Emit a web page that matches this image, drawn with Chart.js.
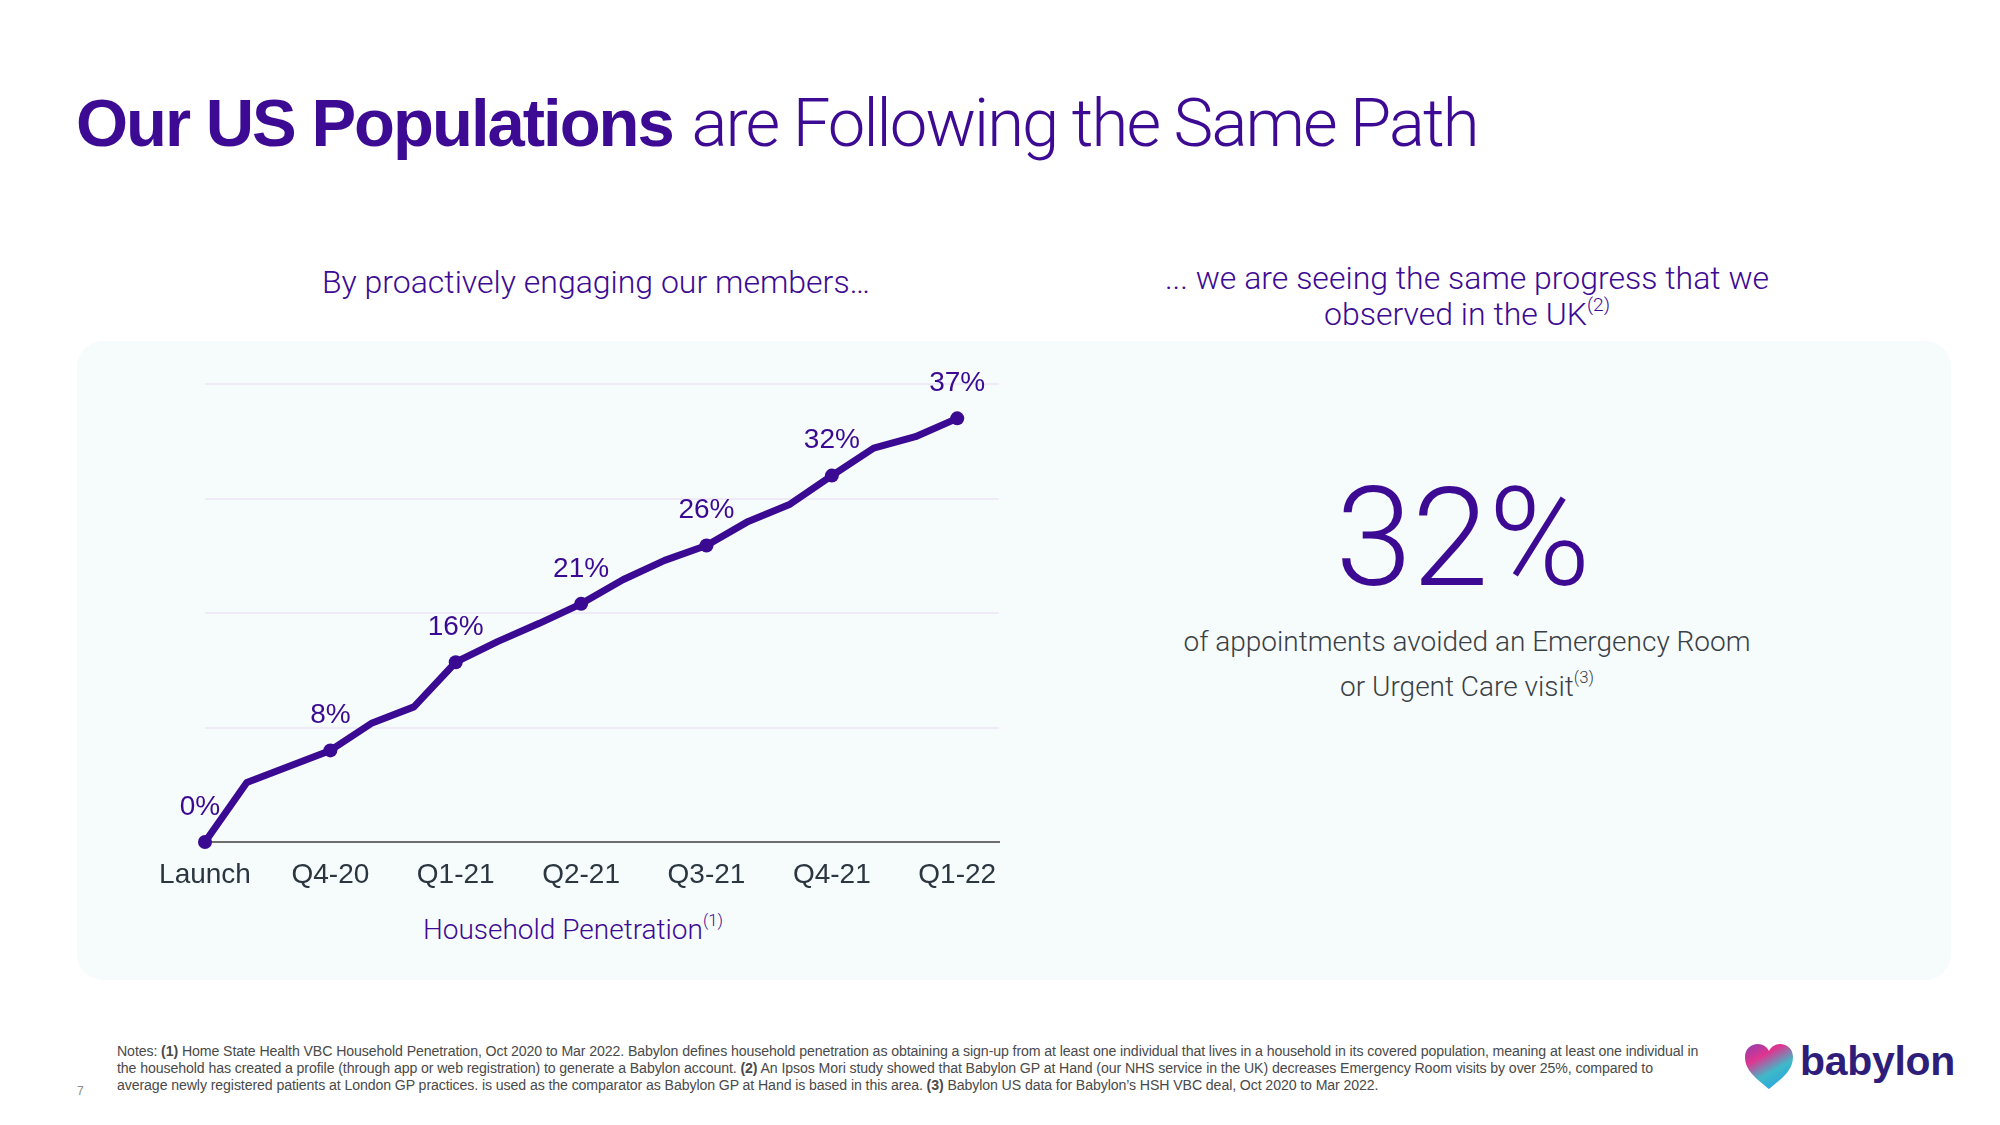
<!DOCTYPE html>
<html>
<head>
<meta charset="utf-8">
<script src="https://cdn.jsdelivr.net/npm/chart.js@4.4.1/dist/chart.umd.min.js"></script>
<style>
  html, body { margin:0; padding:0; background:#ffffff; }
  body { width:2000px; height:1125px; position:relative; overflow:hidden; font-family:'Liberation Sans', Arial, sans-serif; }
  .abs { position:absolute; white-space:nowrap; }
  #title { left:76px; top:84px; font-size:67px; color:#3d0a94; }
  #title b { font-family:'Liberation Sans', Arial, sans-serif; font-weight:700; letter-spacing:-2.0px; }
  #title span { font-family:Roboto, sans-serif; font-weight:300; letter-spacing:-1.9px; }
  .purple { color:#3d0a94; }
  .light { font-family:Roboto, sans-serif; font-weight:300; }
  #panel { left:77px; top:341px; width:1874px; height:639px; background:#f6fbfb; border-radius:26px; }
  #subL { left:596px; top:282px; transform:translate(-50%,-50%); font-size:32px; }
  #subR { left:1467px; top:298px; transform:translate(-50%,-50%); font-size:32px; text-align:center; line-height:36px; }
  sup { font-size:0.6em; vertical-align:0; position:relative; top:-0.75em; }
  #big { left:1463px; top:538px; transform:translate(-50%,-50%); font-size:138px; }
  #bodyR { left:1467px; top:666px; transform:translate(-50%,-50%); font-size:28px; color:#3a3f46; text-align:center; line-height:45px; }
  #xtitle { left:573px; top:929px; transform:translate(-50%,-50%); font-size:28px; }
  #chartWrap { left:150px; top:340px; width:900px; height:620px; }
  #notes { left:117px; top:1043px; font-size:14.15px; color:#4a4a4a; line-height:16.8px; font-family:'Liberation Sans', Arial, sans-serif; letter-spacing:-0.1px; }
  #pageno { left:77px; top:1084px; font-size:12px; color:#8a8a8a; }
  #logo { left:1743px; top:1043px; }
  #logoText { left:1800px; top:1038px; font-size:41px; font-weight:700; color:#2f1d7a; letter-spacing:-0.3px; }
</style>
</head>
<body>
<div id="panel" class="abs"></div>
<div id="title" class="abs"><b>Our US Populations</b> <span>are Following the Same Path</span></div>
<div id="subL" class="abs purple light">By proactively engaging our members…</div>
<div id="subR" class="abs purple light">... we are seeing the same progress that we<br>observed in the UK<sup>(2)</sup></div>
<div id="big" class="abs purple light">32%</div>
<div id="bodyR" class="abs light">of appointments avoided an Emergency Room<br>or Urgent Care visit<sup>(3)</sup></div>
<div id="xtitle" class="abs purple light">Household Penetration<sup>(1)</sup></div>
<div id="chartWrap" class="abs"><canvas id="c" width="900" height="620"></canvas></div>
<div id="notes" class="abs">Notes: <b>(1)</b> Home State Health VBC Household Penetration, Oct 2020 to Mar 2022. Babylon defines household penetration as obtaining a sign-up from at least one individual that lives in a household in its covered population, meaning at least one individual in<br>the household has created a profile (through app or web registration) to generate a Babylon account. <b>(2)</b> An Ipsos Mori study showed that Babylon GP at Hand (our NHS service in the UK) decreases Emergency Room visits by over 25%, compared to<br>average newly registered patients at London GP practices. is used as the comparator as Babylon GP at Hand is based in this area. <b>(3)</b> Babylon US data for Babylon’s HSH VBC deal, Oct 2020 to Mar 2022.</div>
<div id="pageno" class="abs">7</div>
<svg id="logo" class="abs" width="52" height="48" viewBox="0 0 52 48">
  <defs>
    <linearGradient id="hg" x1="0" y1="0" x2="0.6" y2="1">
      <stop offset="0" stop-color="#8a3fb0"/>
      <stop offset="0.35" stop-color="#e0348f"/>
      <stop offset="0.7" stop-color="#3fb9c9"/>
      <stop offset="1" stop-color="#2aa7dc"/>
    </linearGradient>
  </defs>
  <path d="M26 46 C14 36 2 28 2 14 C2 6 8 1 15 1 C20 1 24 4 26 8 C28 4 32 1 37 1 C44 1 50 6 50 14 C50 28 38 36 26 46 Z" fill="url(#hg)"/>
</svg>
<div id="logoText" class="abs">babylon</div>

<script>
// ---- data ----
const quarterLabels = ['Launch', 'Q4-20', 'Q1-21', 'Q2-21', 'Q3-21', 'Q4-21', 'Q1-22'];
const pointLabels = ['0%', '8%', '16%', '21%', '26%', '32%', '37%'];
// monthly household penetration (%), Launch .. Mar 2022
const penetration = [0, 5.2, 6.6, 8.0, 10.4, 11.8, 15.7, 17.5, 19.1, 20.8, 22.9, 24.6, 25.9, 28.0, 29.5, 32.0, 34.4, 35.4, 37.0];
const monthsPerQuarter = 3;

const PURPLE = '#3b0a92';

const labelPlugin = {
  id: 'pointLabels',
  afterDatasetsDraw(chart) {
    const meta = chart.getDatasetMeta(0);
    const ctx = chart.ctx;
    ctx.save();
    ctx.font = '28px "Liberation Sans", Arial, sans-serif';
    ctx.fillStyle = PURPLE;
    ctx.textAlign = 'center';
    ctx.textBaseline = 'middle';
    pointLabels.forEach((txt, q) => {
      const el = meta.data[q * monthsPerQuarter];
      if (!el) return;
      ctx.fillText(txt, el.x - (q === 0 ? 5 : 0), el.y - 35);
    });
    ctx.restore();
  }
};

new Chart(document.getElementById('c'), {
  type: 'line',
  data: {
    datasets: [{
      data: penetration.map((v, i) => ({ x: i, y: v })),
      borderColor: PURPLE,
      backgroundColor: PURPLE,
      borderWidth: 7,
      borderJoinStyle: 'round',
      borderCapStyle: 'round',
      tension: 0,
      pointRadius: ctx => (ctx.dataIndex % monthsPerQuarter === 0 ? 7 : 0),
      pointHoverRadius: 0,
      pointBorderWidth: 0,
      clip: false
    }]
  },
  options: {
    responsive: false,
    animation: false,
    events: [],
    layout: { autoPadding: false, padding: { left: 55, right: 51, top: 44, bottom: 68 } },
    plugins: { legend: { display: false }, tooltip: { enabled: false } },
    scales: {
      x: {
        type: 'linear',
        min: 0,
        max: 19,
        afterBuildTicks: axis => { axis.ticks = quarterLabels.map((_, q) => ({ value: q * monthsPerQuarter })); },
        afterFit: s => { s.paddingLeft = 0; s.paddingRight = 0; s.height = 50; },
        ticks: {
          callback: v => quarterLabels[v / monthsPerQuarter] ?? '',
          font: { family: '"Liberation Sans", Arial, sans-serif', size: 28 },
          color: '#2b3640',
          padding: 16,
          maxRotation: 0,
          autoSkip: false
        },
        grid: { display: false, drawTicks: false },
        border: { display: true, color: '#6e6e6e', width: 2 }
      },
      y: {
        min: 0,
        max: 40,
        afterFit: s => { s.width = 0; s.paddingTop = 0; s.paddingBottom = 0; },
        ticks: { display: false, stepSize: 10 },
        grid: { color: '#eeeaf8', lineWidth: 2, drawTicks: false },
        border: { display: false }
      }
    }
  },
  plugins: [labelPlugin]
});
</script>
</body>
</html>
